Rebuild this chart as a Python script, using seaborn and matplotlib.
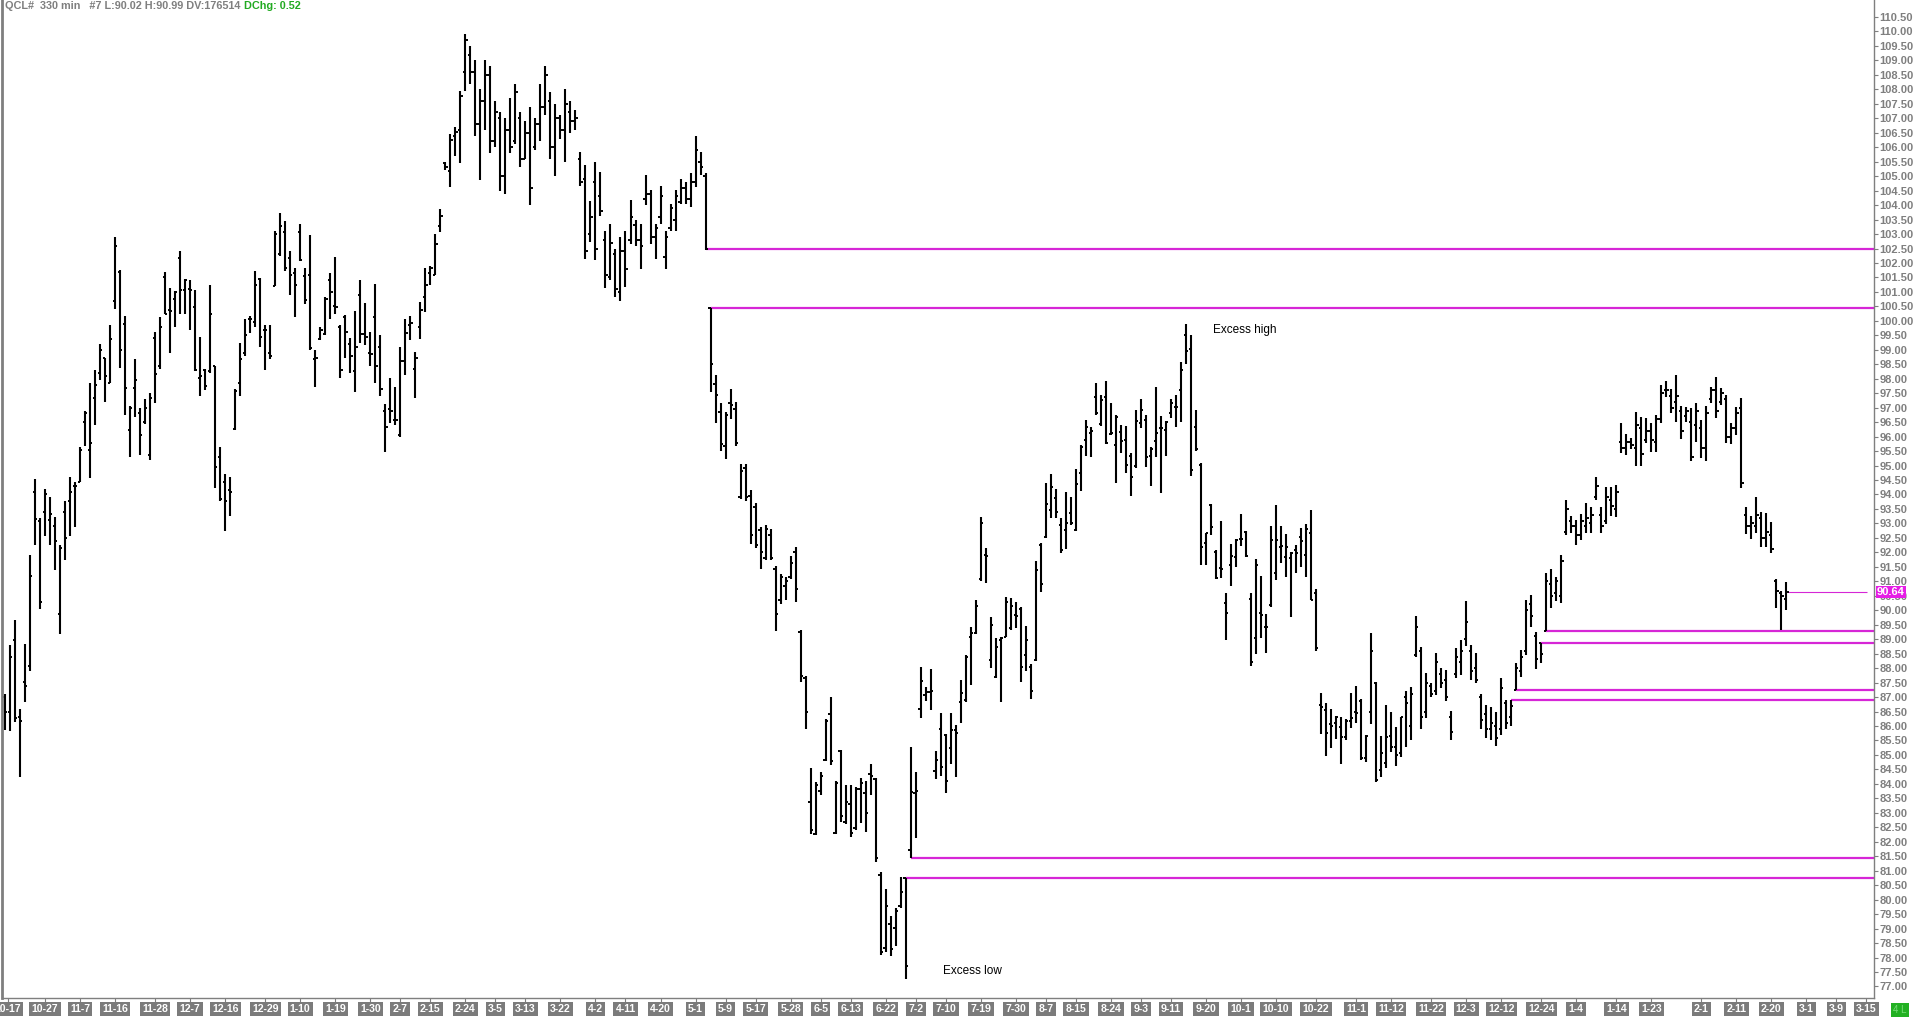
import numpy as np
import pandas as pd
import matplotlib
matplotlib.use('Agg')
import matplotlib.pyplot as plt
import matplotlib.transforms as mtrans
import seaborn as sns

# daily bars (bar index 0 = 10-17)
opens = [
    87.0, 86.47, 88.98, 86.3, 87.52, 88.08, 94.1, 93.1, 93.4, 93.12,
    92.9, 89.86, 93.4, 93.77, 94.3, 94.44, 96.5, 95.55, 97.33, 98.2,
    98.7, 97.84, 100.69, 101.7, 99.9, 96.23, 97.67, 96.82, 96.5, 95.38,
    99.4, 98.43, 101.5, 100.38, 100.76, 102.17, 101.06, 101.1, 100.47, 98.04,
    98.31, 98.26, 98.43, 95.29, 94.44, 94.14, 96.28, 97.84, 98.89, 100.05,
    99.96, 101.43, 99.67, 98.89, 101.2, 102.3, 103.06, 102.17, 101.66, 103.06,
    101.54, 101.6, 98.69, 99.37, 99.54, 101.4, 100.5, 99.79, 100.13, 99.2,
    98.26, 100.89, 99.54, 98.89, 100.13, 99.11, 96.89, 96.95, 96.57, 96.06,
    98.6, 99.87, 98.35, 99.79, 100.81, 101.66, 101.6, 103.27, 105.47, 105.17,
    106.4, 106.58, 108.6, 109.2, 108.6, 106.8, 107.6, 108.5, 106.2, 107.0,
    105.0, 106.6, 106.2, 107.0, 105.6, 106.5, 106.0, 106.8, 107.4, 107.6,
    106.0, 107.0, 106.6, 107.2, 106.9, 105.6, 104.9, 103.0, 104.8, 104.3,
    102.8, 101.5, 102.3, 101.0, 102.4, 102.8, 103.3, 102.8, 104.2, 104.4,
    102.9, 103.6, 102.2, 103.2, 103.5, 104.1, 104.6, 104.2, 104.8, 105.5,
    105.0, 100.44, 97.83, 96.86, 95.69, 97.15, 96.95, 93.91, 94.92, 93.95,
    93.56, 92.78, 91.82, 92.59, 91.43, 90.36, 90.85, 91.14, 92.01, 89.26,
    87.65, 83.38, 82.28, 83.77, 84.84, 86.43, 82.32, 85.13, 82.7, 83.32,
    82.47, 83.83, 83.67, 84.35, 84.16, 80.86, 78.34, 79.17, 79.02, 79.79,
    80.76, 81.73, 83.67, 86.58, 87.07, 87.16, 84.45, 85.9, 85.7, 85.23,
    85.86, 86.84, 86.9, 89.09, 89.23, 91.07, 91.91, 88.28, 87.71, 88.97,
    89.09, 89.37, 89.84, 90.03, 88.45, 88.05, 88.28, 92.25, 92.52, 93.46,
    93.87, 92.95, 92.77, 93.35, 92.77, 94.73, 95.88, 96.14, 97.36, 96.44,
    97.38, 96.09, 95.71, 96.17, 95.88, 95.33, 94.98, 96.46, 96.57, 95.33,
    95.86, 96.29, 96.23, 96.81, 97.01, 97.61, 99.51, 99.02, 96.34, 95.02,
    92.31, 93.64, 92.02, 91.45, 90.24, 91.56, 91.85, 92.45, 92.72, 90.4,
    89.03, 89.89, 89.43, 90.18, 91.28, 92.2, 91.85, 91.79, 92.08, 92.52,
    91.91, 92.68, 90.59, 86.72, 86.55, 86.07, 86.09, 85.98, 85.63, 86.19,
    86.5, 86.88, 84.88, 86.5, 87.5, 84.48, 84.71, 85.66, 85.29, 85.06,
    87.01, 86.0, 88.45, 88.6, 86.5, 87.4, 87.2, 87.8, 87.6, 86.3,
    87.8, 88.2, 89.0, 88.6, 88.0, 87.0, 86.4, 85.9, 86.0, 85.9,
    86.8, 86.3, 87.23, 87.9, 88.6, 90.2, 89.1, 88.86, 89.3, 90.9,
    90.6, 90.5, 92.7, 93.1, 92.9, 92.6, 92.9, 93.0, 93.9, 93.3,
    93.1, 93.8, 93.5, 95.8, 95.6, 95.8, 95.6, 96.3, 95.9, 96.2,
    95.8, 96.6, 97.6, 97.4, 97.2, 96.9, 96.7, 96.5, 96.4, 96.3,
    95.6, 97.3, 97.6, 97.2, 97.3, 96.0, 96.3, 97.0, 93.3, 92.9,
    92.9, 93.2, 92.5, 92.6, 91.0, 90.6, 90.38,
]
highs = [
    87.1, 88.8, 89.66, 86.6, 88.85, 91.9, 94.53, 93.2, 94.2, 93.9,
    93.22, 92.24, 93.77, 94.6, 94.44, 95.63, 96.87, 97.84, 98.31, 99.2,
    98.72, 99.84, 102.9, 101.77, 100.18, 97.07, 98.69, 96.99, 97.3, 97.5,
    99.62, 100.13, 101.7, 101.15, 101.03, 102.42, 101.43, 101.4, 101.06, 99.45,
    98.35, 101.23, 98.43, 95.63, 94.7, 94.6, 97.63, 99.23, 100.05, 100.18,
    101.74, 101.49, 99.87, 99.87, 103.1, 103.73, 103.44, 102.42, 101.83, 103.35,
    101.83, 102.96, 98.99, 99.79, 100.81, 101.66, 102.22, 99.84, 100.21, 99.4,
    100.35, 101.4, 100.62, 99.62, 101.27, 99.5, 97.12, 98.01, 97.7, 99.11,
    100.08, 100.18, 98.94, 100.64, 101.83, 101.91, 103.0, 103.86, 105.5, 106.46,
    106.7, 107.94, 109.92, 109.5, 109.0, 108.0, 109.0, 108.8, 107.6, 107.2,
    107.0, 107.7, 108.2, 107.2, 106.9, 107.4, 107.0, 108.2, 108.8, 107.9,
    107.5, 107.1, 108.0, 107.6, 107.3, 105.82, 105.39, 104.13, 105.49, 105.16,
    103.1, 103.35, 102.48, 102.91, 103.1, 104.19, 103.49, 103.35, 105.04, 104.52,
    103.35, 104.65, 103.1, 104.03, 104.52, 104.9, 104.81, 105.1, 106.4, 105.82,
    105.1, 100.44, 98.12, 97.15, 96.86, 97.63, 97.21, 95.07, 95.07, 94.14,
    93.72, 92.88, 92.94, 92.82, 91.52, 91.27, 91.14, 91.86, 92.17, 89.33,
    87.74, 84.54, 84.06, 84.41, 86.23, 87.01, 84.1, 85.18, 83.96, 83.96,
    83.9, 84.21, 84.1, 84.68, 84.21, 80.96, 80.38, 79.44, 79.7, 80.8,
    80.76, 85.26, 84.41, 88.03, 87.36, 87.98, 85.13, 86.46, 85.72, 86.46,
    86.03, 87.59, 88.45, 89.43, 90.36, 93.21, 92.14, 89.76, 89.03, 89.09,
    90.45, 90.41, 90.3, 90.1, 89.46, 88.14, 91.71, 92.31, 94.39, 94.71,
    94.18, 93.18, 94.1, 93.92, 94.87, 95.71, 96.57, 96.34, 97.86, 97.44,
    97.93, 97.15, 96.75, 96.4, 96.37, 95.42, 96.92, 97.29, 96.75, 95.65,
    97.7, 96.71, 96.55, 97.29, 97.44, 98.59, 99.89, 99.51, 96.92, 95.08,
    92.66, 93.67, 92.08, 93.1, 90.61, 92.29, 92.45, 93.33, 92.75, 90.61,
    91.76, 91.18, 89.87, 92.91, 93.64, 92.91, 92.64, 92.02, 92.26, 92.83,
    92.98, 93.46, 90.72, 87.13, 86.81, 86.58, 86.35, 86.3, 86.23, 87.15,
    87.38, 86.92, 85.69, 89.2, 87.53, 85.66, 86.72, 86.5, 85.98, 86.32,
    87.22, 87.36, 89.8, 88.74, 87.82, 87.5, 88.51, 87.99, 87.94, 86.53,
    88.68, 88.97, 90.33, 88.8, 88.54, 87.11, 86.73, 86.67, 86.5, 87.65,
    86.9, 86.89, 88.17, 88.63, 90.36, 90.53, 89.26, 88.86, 91.28, 91.42,
    91.16, 91.91, 93.81, 93.26, 93.12, 93.33, 93.72, 93.56, 94.59, 93.58,
    94.25, 94.27, 94.33, 96.46, 96.09, 95.94, 96.86, 96.69, 96.63, 96.48,
    96.75, 97.79, 97.93, 97.63, 98.13, 97.06, 97.04, 96.98, 97.17, 96.57,
    97.06, 97.73, 98.05, 97.67, 97.44, 96.46, 97.04, 97.32, 93.58, 93.24,
    93.93, 93.41, 93.35, 93.06, 91.07, 90.68, 90.99,
]
lows = [
    85.87, 85.82, 86.13, 84.23, 86.84, 87.9, 92.27, 90.03, 92.58, 92.24,
    91.39, 89.18, 91.73, 92.55, 92.88, 94.44, 95.66, 94.58, 96.4, 97.97,
    97.2, 97.84, 100.42, 98.38, 96.73, 95.29, 96.68, 95.38, 96.45, 95.2,
    97.16, 98.35, 100.25, 98.89, 99.79, 100.25, 100.25, 99.67, 98.26, 97.4,
    97.6, 98.21, 94.24, 93.77, 92.75, 93.26, 96.23, 97.4, 98.77, 99.57,
    99.79, 99.11, 98.31, 98.69, 101.2, 102.25, 101.74, 100.89, 100.13, 102.08,
    100.59, 98.99, 97.7, 99.33, 99.5, 100.05, 100.25, 98.01, 98.72, 98.21,
    97.53, 99.23, 99.16, 98.43, 97.87, 97.41, 95.46, 96.48, 96.4, 96.0,
    98.14, 99.33, 97.33, 99.37, 100.3, 101.23, 101.6, 103.06, 105.2, 104.63,
    105.68, 105.44, 107.94, 108.2, 106.4, 104.85, 106.6, 105.8, 106.0, 104.5,
    104.4, 105.8, 106.1, 105.3, 105.6, 104.0, 105.9, 106.2, 107.1, 105.6,
    105.0, 106.3, 105.5, 106.5, 106.6, 104.65, 102.13, 102.71, 102.09, 103.64,
    101.12, 101.41, 100.83, 100.7, 101.16, 102.67, 102.58, 101.8, 103.99, 102.64,
    102.13, 103.35, 101.8, 103.1, 103.1, 104.03, 104.03, 103.93, 104.61, 105.04,
    102.44, 97.54, 96.47, 95.5, 95.21, 96.62, 95.69, 93.85, 93.79, 92.3,
    92.16, 91.43, 91.72, 91.72, 89.3, 90.23, 90.36, 91.08, 90.27, 87.51,
    85.9, 82.28, 82.22, 83.63, 84.8, 84.64, 82.28, 82.7, 82.6, 82.16,
    82.41, 82.66, 82.35, 83.63, 81.31, 78.09, 78.2, 78.05, 78.4, 79.7,
    77.27, 81.44, 82.12, 86.29, 86.87, 86.54, 84.16, 84.27, 83.67, 84.69,
    84.23, 86.09, 86.84, 87.42, 89.18, 91.02, 90.93, 88.0, 87.65, 86.84,
    89.06, 89.32, 89.37, 87.53, 87.91, 86.92, 88.26, 90.64, 92.48, 93.18,
    93.18, 91.97, 92.1, 92.95, 92.75, 94.13, 95.33, 95.31, 96.75, 96.37,
    95.75, 96.06, 94.41, 95.45, 94.75, 93.95, 94.9, 96.29, 94.96, 94.29,
    95.31, 94.06, 95.33, 96.63, 96.32, 96.52, 98.51, 94.64, 95.52, 91.56,
    91.56, 92.6, 91.07, 91.1, 88.97, 90.84, 91.51, 92.22, 91.85, 88.07,
    88.49, 89.03, 88.51, 90.12, 91.05, 91.62, 91.16, 89.78, 91.3, 91.51,
    91.14, 90.36, 88.6, 85.72, 84.96, 85.23, 85.54, 84.69, 85.52, 85.92,
    86.12, 84.81, 84.77, 86.07, 84.08, 84.23, 84.54, 85.11, 84.62, 84.94,
    85.26, 85.5, 88.4, 85.9, 86.27, 87.0, 87.07, 87.3, 86.88, 85.5,
    87.65, 87.76, 88.77, 87.59, 87.48, 85.9, 85.6, 85.5, 85.3, 85.7,
    85.9, 86.0, 87.23, 87.68, 88.45, 89.43, 87.96, 88.19, 89.3, 90.07,
    90.33, 90.26, 92.6, 92.66, 92.26, 92.43, 92.68, 92.68, 93.81, 92.66,
    92.98, 93.24, 93.21, 95.42, 95.37, 95.56, 94.99, 94.99, 95.79, 95.48,
    95.48, 96.48, 97.36, 96.81, 96.52, 95.91, 96.52, 95.17, 95.83, 95.25,
    95.17, 97.17, 96.63, 97.09, 95.79, 95.75, 96.06, 94.21, 92.64, 92.45,
    92.66, 92.17, 92.17, 91.99, 90.07, 89.32, 90.02,
]
closes = [
    86.47, 88.4, 86.27, 86.16, 87.4, 91.2, 93.17, 90.28, 94.0, 93.34,
    92.4, 92.15, 92.5, 94.1, 94.3, 95.55, 96.8, 95.77, 97.8, 99.0,
    98.1, 99.37, 102.59, 99.0, 97.67, 96.99, 97.97, 96.06, 97.0, 97.33,
    98.18, 99.79, 100.25, 100.35, 100.98, 101.06, 101.4, 101.06, 98.31, 98.1,
    97.75, 100.25, 94.95, 93.85, 93.77, 94.07, 97.58, 98.69, 99.5, 100.05,
    101.23, 99.45, 99.7, 98.77, 103.0, 103.27, 101.83, 101.6, 101.23, 102.12,
    100.72, 99.06, 98.72, 99.7, 100.76, 100.98, 100.47, 98.31, 99.6, 98.77,
    99.11, 99.54, 99.43, 98.86, 98.43, 97.63, 96.34, 96.9, 96.57, 98.6,
    99.57, 99.91, 98.72, 100.38, 101.23, 101.83, 102.67, 103.64, 105.3, 106.24,
    106.53, 107.77, 109.72, 108.6, 106.8, 107.6, 108.5, 106.2, 107.2, 105.0,
    106.6, 106.0, 107.9, 105.6, 106.5, 104.6, 106.8, 107.4, 108.5, 106.0,
    107.0, 106.6, 107.5, 106.9, 107.0, 104.8, 102.4, 103.6, 102.5, 103.8,
    101.6, 102.7, 101.1, 102.4, 101.8, 103.6, 102.8, 102.6, 104.4, 102.9,
    103.2, 104.3, 102.9, 103.9, 104.3, 104.6, 104.2, 104.8, 105.9, 105.3,
    102.47, 98.5, 97.44, 95.73, 96.76, 97.09, 95.79, 94.82, 93.91, 92.59,
    92.24, 92.01, 92.82, 91.82, 89.88, 91.14, 91.0, 91.62, 90.75, 87.74,
    86.48, 82.41, 83.96, 84.29, 86.19, 84.8, 84.02, 82.9, 83.38, 82.32,
    83.83, 84.02, 83.0, 84.29, 81.44, 78.2, 79.79, 78.28, 79.6, 80.28,
    77.7, 83.71, 83.77, 87.55, 87.16, 87.2, 84.84, 84.6, 84.1, 85.86,
    85.75, 87.15, 88.4, 89.23, 90.15, 93.03, 91.88, 89.5, 88.74, 89.03,
    90.3, 90.15, 89.8, 88.05, 88.97, 87.22, 91.39, 90.9, 93.67, 94.27,
    93.41, 92.08, 93.03, 93.03, 94.36, 95.65, 96.32, 96.21, 96.83, 97.27,
    95.79, 96.11, 96.69, 95.86, 95.02, 94.62, 96.55, 96.92, 95.31, 95.56,
    96.14, 96.29, 96.52, 97.17, 97.01, 98.3, 98.97, 94.85, 95.56, 92.2,
    92.66, 92.89, 91.1, 91.41, 89.92, 91.87, 92.43, 92.45, 91.87, 88.2,
    91.56, 89.84, 89.43, 92.43, 92.43, 92.22, 92.2, 91.97, 91.97, 92.4,
    92.8, 90.36, 88.68, 86.67, 85.75, 86.0, 86.3, 85.63, 86.19, 86.27,
    86.44, 84.88, 85.66, 88.6, 84.14, 85.08, 85.63, 85.29, 85.0, 86.3,
    86.78, 87.1, 89.43, 86.3, 87.5, 87.1, 88.2, 87.5, 87.0, 85.8,
    88.4, 88.6, 89.6, 87.9, 87.6, 86.2, 85.9, 86.1, 85.6, 87.3,
    86.1, 86.7, 88.0, 88.4, 90.0, 89.8, 88.3, 88.5, 91.0, 90.5,
    91.0, 91.7, 93.5, 92.9, 92.6, 93.1, 93.2, 93.3, 94.3, 92.9,
    93.9, 93.6, 94.1, 95.6, 95.8, 95.7, 96.4, 95.4, 96.2, 95.9,
    96.6, 97.5, 97.6, 97.0, 97.4, 96.2, 96.9, 95.3, 96.9, 95.6,
    96.8, 97.6, 96.9, 97.5, 96.0, 96.3, 96.8, 94.4, 92.9, 93.0,
    93.3, 92.5, 92.7, 92.1, 90.65, 90.5, 90.64,
]

date_labels = ['10-17', '10-27', '11-7', '11-16', '11-28', '12-7', '12-16', '12-29',
               '1-10', '1-19', '1-30', '2-7', '2-15', '2-24', '3-5', '3-13', '3-22',
               '4-2', '4-11', '4-20', '5-1', '5-9', '5-17', '5-28', '6-5', '6-13',
               '6-22', '7-2', '7-10', '7-19', '7-30', '8-7', '8-15', '8-24', '9-3',
               '9-11', '9-20', '10-1', '10-10', '10-22', '11-1', '11-12', '11-22',
               '12-3', '12-12', '12-24', '1-4', '1-14', '1-23', '2-1', '2-11', '2-20',
               '3-1', '3-9', '3-15']
date_pos = [0.5, 8, 15, 22, 30, 37, 44, 52, 59, 66, 73, 79, 85, 92, 98, 104, 111,
            118, 124, 131, 138, 144, 150, 157, 163, 169, 176, 182, 188, 195, 202,
            208, 214, 221, 227, 233, 240, 247, 254, 262, 270, 277, 285, 292, 299,
            307, 314, 322, 329, 339, 346, 353, 360, 366, 372]

# reference levels (price, bar where the line starts)
level_price = [102.47, 100.44, 89.30, 88.86, 87.23, 86.89, 81.44, 80.76]
level_start = [140, 141, 308, 307, 302, 301, 181, 180]
last_price = 90.64

sns.set_style('white')
plt.rcParams['font.family'] = ['Liberation Sans', 'DejaVu Sans']

bars = pd.DataFrame({'open': opens, 'high': highs, 'low': lows, 'close': closes})
bars['x'] = np.arange(len(bars))

W, H = 1916, 1017
fig = plt.figure(figsize=(W / 100, H / 100), dpi=100)
ax = fig.add_axes([2 / W, 19 / H, 1872 / W, 998 / H])
x_right = 373.5
ax.set_xlim(-0.6, x_right)
ax.set_ylim(76.602, 111.087)

magenta = '#d626d6'
ax.hlines(level_price, level_start, x_right, color=magenta, lw=1.6, zorder=1)
ax.hlines(last_price, len(bars) - 0.6, 372.1, color=magenta, lw=0.8, zorder=1)

ax.vlines(bars['x'], bars['low'], bars['high'], color='black', lw=1.5, zorder=2)
ax.hlines(bars['open'], bars['x'] - 0.45, bars['x'], color='black', lw=1.4, zorder=2)
ax.hlines(bars['close'], bars['x'], bars['x'] + 0.45, color='black', lw=1.4, zorder=2)

# price scale on the right
gray = '#7f7f7f'
yt = np.arange(77.0, 110.51, 0.5)
ax.yaxis.tick_right()
ax.set_yticks(yt)
ax.set_yticklabels(['%.2f' % v for v in yt])
ax.tick_params(axis='y', which='both', right=True, left=False, length=3, width=0.8,
               color=gray, labelcolor=gray, labelsize=8, pad=1)
for t in ax.get_yticklabels():
    t.set_fontweight('bold')

ax.set_xticks(date_pos)
ax.set_xticklabels([])
ax.tick_params(axis='x', bottom=True, length=3, width=0.8, color=gray)
tr = mtrans.blended_transform_factory(ax.transData, ax.transAxes)
for lab, p in zip(date_labels, date_pos):
    ax.text(p, -11 / 998, lab, transform=tr, ha='center', va='center', color='white',
            fontsize=7.6, fontweight='bold', clip_on=False,
            bbox=dict(boxstyle='square,pad=0.22', fc='#7b7b7b', ec='none'))

for side in ['left', 'right', 'bottom']:
    ax.spines[side].set_color(gray)
    ax.spines[side].set_linewidth(1)
ax.spines['left'].set_linewidth(2)
ax.spines['top'].set_visible(False)
ax.grid(False)

ax.text(x_right + 0.6, last_price, '%.2f' % last_price, ha='left', va='center',
        color='white', fontsize=8, fontweight='bold', clip_on=False, zorder=5,
        bbox=dict(boxstyle='square,pad=0.1', fc='#e61ee6', ec='none'))

ax.text(241.4, 99.68, 'Excess high', ha='left', va='center', fontsize=8.5, color='black')
ax.text(187.4, 77.54, 'Excess low', ha='left', va='center', fontsize=8.5, color='black')

hdr = fig.text(5 / W, 1 - 6 / H, 'QCL#  330 min   #7 L:90.02 H:90.99 DV:176514',
               ha='left', va='center', fontsize=7.8, color=gray, fontweight='bold')
fig.canvas.draw()
bb = hdr.get_window_extent()
fig.text((bb.x1 + 4) / W, 1 - 6 / H, 'DChg: 0.52', ha='left', va='center',
         fontsize=7.8, color='#22aa22', fontweight='bold')

fig.text(1900 / W, 1 - 1010 / H, '4 L', ha='center', va='center', fontsize=7,
         color='#77dd77', bbox=dict(boxstyle='square,pad=0.25', fc='#22b022', ec='none'))

fig.savefig('out.png', dpi=100)
